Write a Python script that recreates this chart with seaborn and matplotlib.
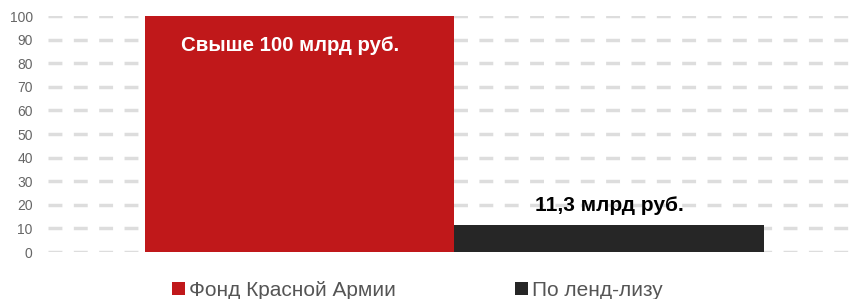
import numpy as np
import pandas as pd
import seaborn as sns
import matplotlib.pyplot as plt

categories = ['Фонд Красной Армии', 'По ленд-лизу']
values = [100, 11.3]
labels = ['Свыше 100 млрд руб.', '11,3 млрд руб.']
colors = ['#c0181a', '#262626']
yticks = [0, 10, 20, 30, 40, 50, 60, 70, 80, 90, 100]

sns.set_style('white')
plt.rcParams['font.family'] = ['Liberation Sans', 'DejaVu Sans']

df = pd.DataFrame({'cat': categories, 'val': values})

fig = plt.figure(figsize=(8.51, 2.99), dpi=100)
ax = fig.add_axes([48 / 851, 1 - 252 / 299, 802 / 851, 236 / 299])

# dashed grey guide lines
for y in yticks:
    ax.axhline(y, color='#dddddd', lw=2.5, dashes=(4, 3.3), zorder=0)

sns.barplot(data=df, x='cat', y='val', hue='cat', palette=colors,
            width=1.0, saturation=1, linewidth=0, legend=True, ax=ax, zorder=2)

ax.set_xlim(-0.813, 1.778)
ax.set_ylim(0, 100)
ax.set_yticks(yticks)
ax.tick_params(axis='y', length=0, labelsize=10, colors='#666666', pad=11)
ax.set_xticks([])
ax.set_xlabel('')
ax.set_ylabel('')
for s in ax.spines.values():
    s.set_visible(False)

ax.text(-0.03, 87.7, labels[0], color='white', fontsize=14.7, fontweight='bold',
        ha='center', va='center')
ax.text(1, values[1] + 8.2, labels[1], color='black', fontsize=15, fontweight='bold',
        ha='center', va='center')

handles, texts = ax.get_legend_handles_labels()
ax.get_legend().remove()
leg = fig.legend(handles, texts, loc='upper left', bbox_to_anchor=(172 / 851, 1 - 281 / 299),
                 ncol=2, frameon=False, fontsize=15, handlelength=0.6, handleheight=0.6,
                 handletextpad=0.2, columnspacing=5.75, borderaxespad=0, borderpad=0)
for t in leg.get_texts():
    t.set_color('#555555')

fig.savefig('out.png', dpi=100)
